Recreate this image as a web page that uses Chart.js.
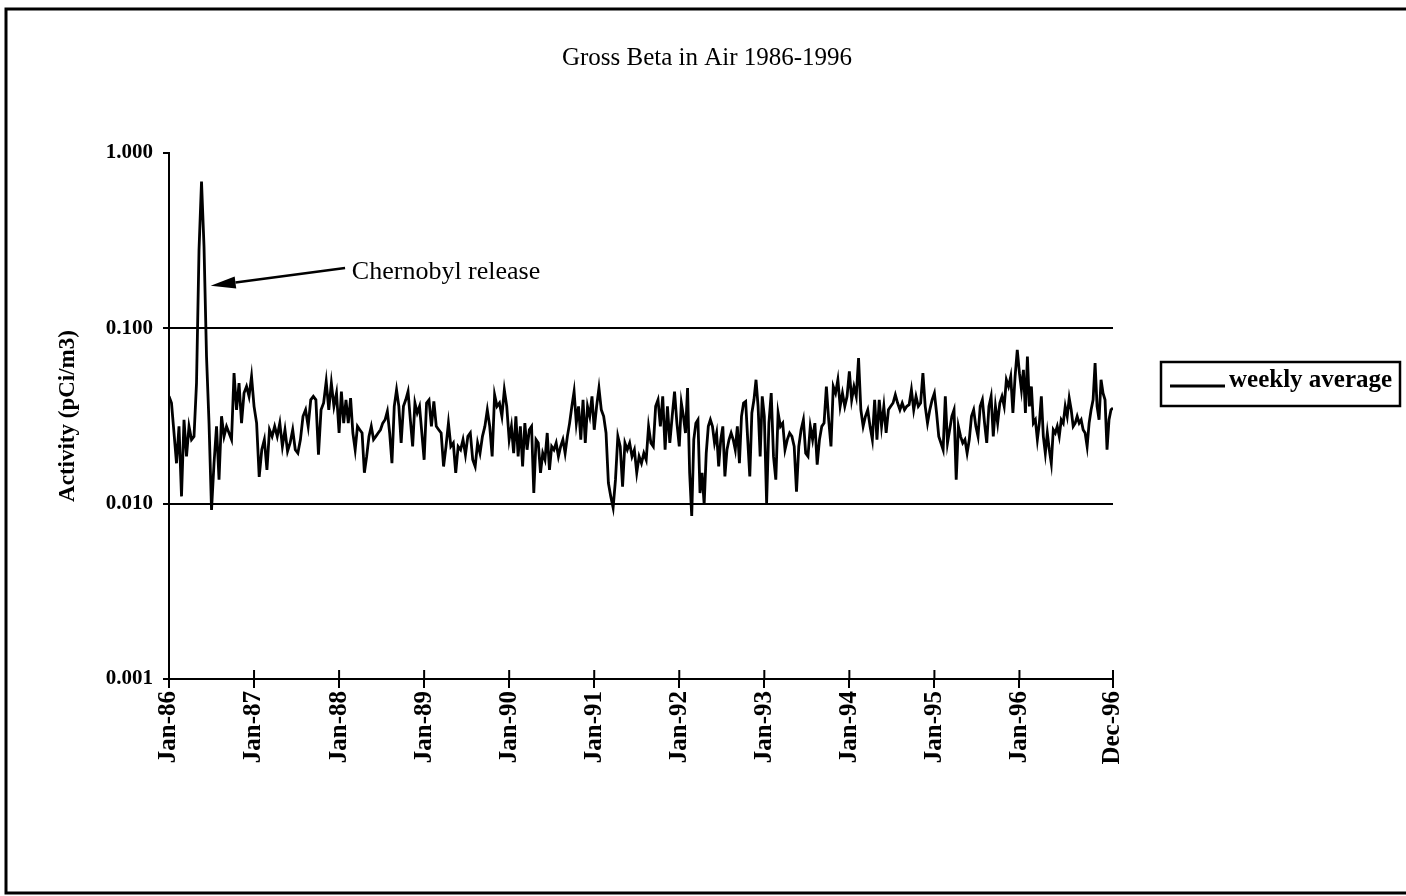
<!DOCTYPE html>
<html>
<head>
<meta charset="utf-8">
<title>Gross Beta in Air 1986-1996</title>
<script src="https://cdn.jsdelivr.net/npm/chart.js@4.4.1/dist/chart.umd.min.js"></script>
<style>
  html, body { margin: 0; padding: 0; background: #fff; }
  canvas { display: block; }
</style>
</head>
<body>
<canvas id="betaChart" width="1406" height="896"></canvas>
<script>
// --- Data: weekly gross beta averages (pCi/m3), read per calendar year ---
const years = [1986, 1987, 1988, 1989, 1990, 1991, 1992, 1993, 1994, 1995, 1996];

const weekly1986 = [0.041, 0.0375, 0.0253, 0.0170, 0.0276, 0.0110, 0.0301, 0.0186, 0.0276, 0.0232, 0.0242, 0.0487,
  0.280, 0.687, 0.292, 0.069, 0.0288, 0.0092, 0.0170, 0.0276, 0.0137, 0.0315, 0.0242, 0.0276, 0.0253, 0.0232,
  0.0555, 0.0343, 0.0487, 0.0288, 0.0427, 0.0466, 0.0409, 0.0531];
const weekly1987 = [0.0359, 0.0288, 0.0142, 0.0203, 0.0232, 0.0156, 0.0264, 0.0242, 0.0276, 0.0242, 0.0288, 0.0212,
  0.0264, 0.0199, 0.0222, 0.0264, 0.0203, 0.0194, 0.0232, 0.0315, 0.0343, 0.0276, 0.0391, 0.0409, 0.0391, 0.0190,
  0.0343, 0.0375, 0.0498, 0.0343, 0.0487, 0.0359, 0.0427];
const weekly1988 = [0.0253, 0.0436, 0.0288, 0.0391, 0.0288, 0.0400, 0.0253, 0.0203, 0.0276, 0.0264, 0.0253, 0.0150,
  0.0186, 0.0242, 0.0276, 0.0232, 0.0242, 0.0253, 0.0264, 0.0288, 0.0301, 0.0336, 0.0253, 0.0170, 0.0359, 0.0446,
  0.0359, 0.0222, 0.0359, 0.0391, 0.0436, 0.0301, 0.0212, 0.0375, 0.0329, 0.0359, 0.0253];
const weekly1989 = [0.0178, 0.0375, 0.0391, 0.0276, 0.0383, 0.0276, 0.0264, 0.0253, 0.0163, 0.0212, 0.0288, 0.0212,
  0.0222, 0.0150, 0.0212, 0.0203, 0.0232, 0.0190, 0.0242, 0.0253, 0.0178, 0.0163, 0.0222, 0.0194, 0.0242, 0.0276,
  0.0343, 0.0276, 0.0186, 0.0418, 0.0359, 0.0375, 0.0315, 0.0446, 0.0359];
const weekly1990 = [0.0232, 0.0276, 0.0194, 0.0315, 0.0186, 0.0276, 0.0163, 0.0288, 0.0203, 0.0264, 0.0276, 0.0115,
  0.0232, 0.0222, 0.0150, 0.0194, 0.0178, 0.0253, 0.0156, 0.0212, 0.0203, 0.0222, 0.0186, 0.0212, 0.0232, 0.0194,
  0.0242, 0.0288, 0.0359, 0.0436, 0.0288, 0.0359, 0.0232, 0.0391, 0.0222, 0.0359, 0.0315, 0.0409];
const weekly1991 = [0.0264, 0.0359, 0.0456, 0.0343, 0.0315, 0.0253, 0.0131, 0.0110, 0.0095, 0.0137, 0.0242, 0.0212,
  0.0125, 0.0222, 0.0203, 0.0222, 0.0186, 0.0203, 0.0150, 0.0186, 0.0170, 0.0194, 0.0178, 0.0276, 0.0222, 0.0212,
  0.0359, 0.0391, 0.0276, 0.0409, 0.0203, 0.0359, 0.0222, 0.0315, 0.0436, 0.0288];
const weekly1992 = [0.0212, 0.0375, 0.0315, 0.0253, 0.0456, 0.0150, 0.0085, 0.0232, 0.0288, 0.0301, 0.0115, 0.0150,
  0.0099, 0.0194, 0.0276, 0.0301, 0.0276, 0.0222, 0.0253, 0.0163, 0.0232, 0.0276, 0.0143, 0.0203, 0.0232, 0.0253,
  0.0232, 0.0203, 0.0276, 0.0170, 0.0315, 0.0375, 0.0383, 0.0232, 0.0143, 0.0329, 0.0391, 0.0509, 0.0359, 0.0186,
  0.0409];
const weekly1993 = [0.0315, 0.0101, 0.0288, 0.0427, 0.0186, 0.0137, 0.0329, 0.0276, 0.0288, 0.0203, 0.0232, 0.0253,
  0.0242, 0.0212, 0.0117, 0.0212, 0.0264, 0.0301, 0.0194, 0.0186, 0.0276, 0.0232, 0.0288, 0.0167, 0.0232, 0.0276,
  0.0288, 0.0466, 0.0301, 0.0212, 0.0466, 0.0427, 0.0509, 0.0359, 0.0427, 0.0359, 0.0409];
const weekly1994 = [0.0568, 0.0391, 0.0466, 0.0409, 0.0676, 0.0343, 0.0276, 0.0315, 0.0343, 0.0276, 0.0232, 0.0391,
  0.0232, 0.0391, 0.0276, 0.0359, 0.0253, 0.0343, 0.0359, 0.0375, 0.0418, 0.0375, 0.0343, 0.0375, 0.0343, 0.0359,
  0.0367, 0.0446, 0.0343, 0.0409, 0.0359, 0.0375, 0.0555, 0.0359, 0.0288, 0.0343, 0.0391];
const weekly1995 = [0.0427, 0.0329, 0.0242, 0.0222, 0.0203, 0.0409, 0.0222, 0.0264, 0.0315, 0.0343, 0.0137, 0.0276,
  0.0242, 0.0222, 0.0232, 0.0194, 0.0232, 0.0315, 0.0343, 0.0276, 0.0242, 0.0359, 0.0391, 0.0288, 0.0222, 0.0359,
  0.0409, 0.0242, 0.0359, 0.0288, 0.0375, 0.0409, 0.0359, 0.0509, 0.0466, 0.0531, 0.0329, 0.0531, 0.0754];
const weekly1996 = [0.0555, 0.0446, 0.0580, 0.0329, 0.0691, 0.0359, 0.0466, 0.0288, 0.0301, 0.0232, 0.0288, 0.0409,
  0.0242, 0.0194, 0.0253, 0.0203, 0.0170, 0.0264, 0.0253, 0.0276, 0.0242, 0.0301, 0.0288, 0.0359, 0.0315, 0.0400,
  0.0343, 0.0276, 0.0288, 0.0315, 0.0288, 0.0301, 0.0264, 0.0253, 0.0212, 0.0288, 0.0343, 0.0391, 0.0634, 0.0359,
  0.0301, 0.0509, 0.0427, 0.0391, 0.0203, 0.0301, 0.0343, 0.0351];

const weeklyByYear = [weekly1986, weekly1987, weekly1988, weekly1989, weekly1990, weekly1991,
  weekly1992, weekly1993, weekly1994, weekly1995, weekly1996];

const seriesEnd = 1997.1; // last sample (Dec-96 tick)
const xTickValues = [1986, 1987, 1988, 1989, 1990, 1991, 1992, 1993, 1994, 1995, 1996, seriesEnd];
const xTickLabels = ['Jan-86', 'Jan-87', 'Jan-88', 'Jan-89', 'Jan-90', 'Jan-91', 'Jan-92', 'Jan-93',
  'Jan-94', 'Jan-95', 'Jan-96', 'Dec-96'];
const yTickValues = [0.001, 0.01, 0.1, 1];

const noteText = 'Chernobyl release';
const noteAt = [1988.15, 0.21];
const arrowFrom = [1988.07, 0.221];
const arrowTo = [1986.49, 0.175];

// --- build {x, y} points: samples spread evenly inside each year ---
const points = [];
weeklyByYear.forEach(function (vals, k) {
    const start = years[k];
    const last = k === weeklyByYear.length - 1;
    vals.forEach(function (v, i) {
        const x = last ? start + i * (seriesEnd - start) / (vals.length - 1) : start + i / vals.length;
        points.push({ x: x, y: v });
    });
});

const SERIF = '"Liberation Serif", "Times New Roman", "DejaVu Serif", serif';

const pagePlugin = {
    id: 'pageDecor',
    beforeDraw(chart) {
        const c = chart.ctx;
        c.save();
        c.fillStyle = '#fff';
        c.fillRect(0, 0, chart.width, chart.height);
        c.restore();
    },
    afterDraw(chart) {
        const c = chart.ctx;
        const xs = chart.scales.x, ys = chart.scales.y;
        c.save();
        c.strokeStyle = '#000';
        c.fillStyle = '#000';

        // outer frame
        c.lineWidth = 3;
        c.beginPath();
        c.moveTo(1406, 9); c.lineTo(6, 9); c.lineTo(6, 893); c.lineTo(1406, 893);
        c.stroke();

        // title
        c.font = '25px ' + SERIF;
        c.textAlign = 'center';
        c.textBaseline = 'middle';
        c.fillText('Gross Beta in Air 1986-1996', 707, 58);

        // inner half of x ticks
        c.lineWidth = 2;
        xTickValues.forEach(function (v) {
            const px = xs.getPixelForValue(v);
            c.beginPath();
            c.moveTo(px, xs.top - 9);
            c.lineTo(px, xs.top);
            c.stroke();
        });

        // Chernobyl annotation
        const tx = xs.getPixelForValue(noteAt[0]), ty = ys.getPixelForValue(noteAt[1]);
        c.font = '26px ' + SERIF;
        c.textAlign = 'left';
        c.textBaseline = 'middle';
        c.fillText(noteText, tx, ty);
        const ax0 = xs.getPixelForValue(arrowFrom[0]), ay0 = ys.getPixelForValue(arrowFrom[1]);
        const ax1 = xs.getPixelForValue(arrowTo[0]), ay1 = ys.getPixelForValue(arrowTo[1]);
        const ang = Math.atan2(ay1 - ay0, ax1 - ax0);
        const headLen = 25, headHalf = 6;
        const bx = ax1 - headLen * Math.cos(ang), by = ay1 - headLen * Math.sin(ang);
        c.lineWidth = 2.5;
        c.beginPath();
        c.moveTo(ax0, ay0);
        c.lineTo(bx, by);
        c.stroke();
        c.beginPath();
        c.moveTo(ax1, ay1);
        c.lineTo(bx + headHalf * Math.sin(ang), by - headHalf * Math.cos(ang));
        c.lineTo(bx - headHalf * Math.sin(ang), by + headHalf * Math.cos(ang));
        c.closePath();
        c.fill();

        // legend box
        const ds = chart.data.datasets[0];
        c.lineWidth = 2.5;
        c.strokeRect(1161, 362, 239, 44);
        c.lineWidth = ds.borderWidth;
        c.beginPath();
        c.moveTo(1170, 386);
        c.lineTo(1225, 386);
        c.stroke();
        c.font = 'bold 25px ' + SERIF;
        c.textAlign = 'left';
        c.textBaseline = 'alphabetic';
        c.fillText(ds.label, 1229, 387);

        c.restore();
    }
};

const canvasElement = document.getElementById('betaChart');
const ctx = canvasElement.getContext('2d');

const betaChart = new Chart(ctx, {
    type: 'line',
    data: {
        datasets: [{
            label: 'weekly average',
            data: points,
            borderColor: '#000',
            borderWidth: 2.8,
            pointRadius: 0,
            tension: 0,
            fill: false
        }]
    },
    options: {
        responsive: false,
        animation: false,
        events: [],
        layout: { padding: { left: 0, right: 293, top: 153, bottom: 0 } },
        plugins: {
            legend: { display: false },
            tooltip: { enabled: false },
            title: { display: false }
        },
        scales: {
            x: {
                type: 'linear',
                min: 1986,
                max: seriesEnd,
                afterBuildTicks: function (scale) {
                    scale.ticks = xTickValues.map(v => ({ value: v }));
                },
                afterFit: function (scale) { scale.height = 217; },
                ticks: {
                    autoSkip: false,
                    minRotation: 90,
                    maxRotation: 90,
                    padding: 3,
                    color: '#000',
                    font: { family: SERIF, size: 25, weight: 'bold' },
                    callback: function (value, index) { return xTickLabels[index]; }
                },
                grid: {
                    drawOnChartArea: false,
                    drawTicks: true,
                    tickLength: 9,
                    color: '#000',
                    tickColor: '#000',
                    lineWidth: 2
                },
                border: { color: '#000', width: 2 }
            },
            y: {
                type: 'logarithmic',
                min: 0.001,
                max: 1,
                afterBuildTicks: function (scale) {
                    scale.ticks = yTickValues.map(v => ({ value: v }));
                },
                afterFit: function (scale) { scale.width = 169; },
                ticks: {
                    padding: 10,
                    color: '#000',
                    font: { family: SERIF, size: 21, weight: 'bold' },
                    callback: function (value) { return Number(value).toFixed(3); }
                },
                grid: {
                    color: function (c) {
                        const v = c.tick ? c.tick.value : null;
                        return (v === 0.01 || v === 0.1) ? '#000' : 'rgba(0,0,0,0)';
                    },
                    tickColor: '#000',
                    tickLength: 6,
                    lineWidth: 2
                },
                border: { color: '#000', width: 2 },
                title: {
                    display: true,
                    text: 'Activity (pCi/m3)',
                    color: '#000',
                    font: { family: SERIF, size: 23, weight: 'bold' },
                    padding: { top: 54, bottom: 0 }
                }
            }
        }
    },
    plugins: [pagePlugin]
});
</script>
</body>
</html>
